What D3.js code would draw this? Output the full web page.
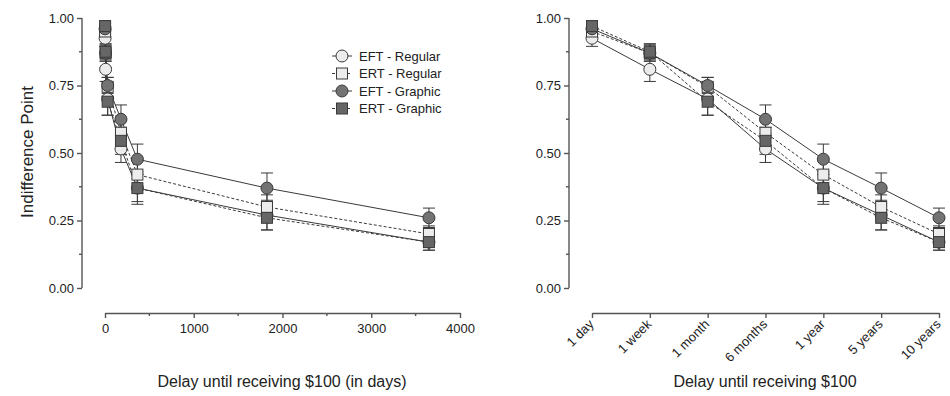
<!DOCTYPE html>
<html>
<head>
<meta charset="utf-8">
<script src="https://cdn.jsdelivr.net/npm/d3@7"></script>
<style>
  body { margin: 0; background: #fff; }
  text { font-family: "Liberation Sans", Arial, sans-serif; fill: #222; }
</style>
</head>
<body>
<svg id="chart" width="950" height="396"></svg>
<script>
// delays in days and their category labels
const delayDays = [1, 7, 30, 180, 365, 1825, 3650];
const delayLabels = ["1 day", "1 week", "1 month", "6 months", "1 year", "5 years", "10 years"];
const yTicks = [0, 0.25, 0.5, 0.75, 1];
const xTicksDays = [0, 1000, 2000, 3000, 4000];

// mean indifference points and SEM per series
const eftRegular = [0.925, 0.81, 0.70, 0.515, 0.37, 0.27, 0.17];
const eftRegularErr = [0.03, 0.045, 0.06, 0.05, 0.06, 0.055, 0.03];
const ertRegular = [0.95, 0.87, 0.745, 0.575, 0.42, 0.30, 0.20];
const ertRegularErr = [0.02, 0.03, 0.035, 0.045, 0.05, 0.045, 0.03];
const eftGraphic = [0.96, 0.87, 0.75, 0.625, 0.477, 0.37, 0.26];
const eftGraphicErr = [0.02, 0.03, 0.03, 0.053, 0.056, 0.056, 0.036];
const ertGraphic = [0.97, 0.875, 0.69, 0.545, 0.37, 0.26, 0.17];
const ertGraphicErr = [0.02, 0.03, 0.05, 0.05, 0.05, 0.045, 0.03];

const series = [
  {name: "EFT - Regular", vals: eftRegular, err: eftRegularErr, shape: "circle", fill: "#ececec", dash: null},
  {name: "ERT - Regular", vals: ertRegular, err: ertRegularErr, shape: "square", fill: "#ececec", dash: "3,2"},
  {name: "EFT - Graphic", vals: eftGraphic, err: eftGraphicErr, shape: "circle", fill: "#737373", dash: null},
  {name: "ERT - Graphic", vals: ertGraphic, err: ertGraphicErr, shape: "square", fill: "#666", dash: "3,2"}
];

const svg = d3.select("#chart");
const axisColor = "#555";
const lineColor = "#3a3a3a";

function drawMarker(g, shape, fill, x, y) {
  if (shape === "circle") {
    g.append("circle").attr("cx", x).attr("cy", y).attr("r", 6)
      .attr("fill", fill).attr("stroke", lineColor).attr("stroke-width", 1);
  } else {
    g.append("rect").attr("x", x - 5.5).attr("y", y - 5.5).attr("width", 11).attr("height", 11)
      .attr("fill", fill).attr("stroke", lineColor).attr("stroke-width", 1);
  }
}

function styleAxis(g) {
  g.selectAll("path, line").attr("stroke", axisColor).attr("stroke-width", 1.4);
  g.selectAll("text").attr("font-size", 13).attr("fill", "#222")
    .attr("font-family", "Liberation Sans, Arial, sans-serif");
}

function drawPanel(opts) {
  const y = d3.scaleLinear().domain([0, 1]).range([288, 18]);
  const g = svg.append("g");

  // y axis with minor ticks
  const yAxis = g.append("g").attr("transform", `translate(${opts.yAxisX},0)`)
    .call(d3.axisLeft(y).tickValues(yTicks).tickFormat(d3.format(".2f")).tickSize(5).tickSizeOuter(0));
  styleAxis(yAxis);
  yAxis.select(".domain").attr("d", `M0,${y(0)}V${y(1)}`);
  g.append("g").selectAll("line").data([0.125, 0.375, 0.625, 0.875]).join("line")
    .attr("x1", opts.yAxisX - 3).attr("x2", opts.yAxisX)
    .attr("y1", d => y(d)).attr("y2", d => y(d))
    .attr("stroke", axisColor).attr("stroke-width", 1.4);

  // x axis
  const xAxis = g.append("g").attr("transform", "translate(0,313)");
  opts.drawXAxis(xAxis);

  // error bars
  series.forEach(s => {
    s.vals.forEach((v, i) => {
      const cx = opts.xPos(i);
      const y1 = y(v + s.err[i]), y2 = y(v - s.err[i]);
      g.append("line").attr("x1", cx).attr("x2", cx).attr("y1", y1).attr("y2", y2)
        .attr("stroke", lineColor).attr("stroke-width", 1);
      [y1, y2].forEach(yy => g.append("line").attr("x1", cx - 6).attr("x2", cx + 6)
        .attr("y1", yy).attr("y2", yy).attr("stroke", lineColor).attr("stroke-width", 1));
    });
  });

  // connecting lines
  const line = d3.line().x(d => opts.xPos(d[0])).y(d => y(d[1]));
  series.forEach(s => {
    g.append("path").datum(s.vals.map((v, i) => [i, v]))
      .attr("d", line).attr("fill", "none").attr("stroke", lineColor)
      .attr("stroke-width", 1).attr("stroke-dasharray", s.dash);
  });

  // markers
  series.forEach(s => {
    s.vals.forEach((v, i) => drawMarker(g, s.shape, s.fill, opts.xPos(i), y(v)));
  });

  svg.append("text").attr("x", opts.titleX).attr("y", 387)
    .attr("text-anchor", "middle").attr("font-size", 16).text(opts.title);
}

// left panel: linear days
const xDays = d3.scaleLinear().domain([0, 4000]).range([105, 460]);
drawPanel({
  yAxisX: 82,
  xPos: i => xDays(delayDays[i]),
  titleX: 282,
  title: "Delay until receiving $100 (in days)",
  drawXAxis: ax => {
    ax.call(d3.axisBottom(xDays).tickValues(xTicksDays).tickFormat(d3.format("d")).tickSize(5).tickSizeOuter(0));
    styleAxis(ax);
    ax.selectAll(".tick text").attr("dy", "0.9em");
    ax.append("g").selectAll("line").data([500, 1500, 2500, 3500]).join("line")
      .attr("x1", d => xDays(d)).attr("x2", d => xDays(d)).attr("y1", 0).attr("y2", 3)
      .attr("stroke", axisColor).attr("stroke-width", 1.4);
  }
});

// right panel: categorical delays (range kept just inside the edge so "10 years" fits)
const xCat = d3.scalePoint().domain(delayLabels).range([592, 939]);
drawPanel({
  yAxisX: 569,
  xPos: i => xCat(delayLabels[i]),
  titleX: 765,
  title: "Delay until receiving $100",
  drawXAxis: ax => {
    ax.call(d3.axisBottom(xCat).tickSize(5).tickSizeOuter(0));
    styleAxis(ax);
    ax.selectAll(".tick text")
      .attr("text-anchor", "end").attr("dy", null).attr("y", 0)
      .attr("transform", "translate(2,12) rotate(-45)");
  }
});

// y axis title
svg.append("text").attr("transform", "translate(33,152) rotate(-90)")
  .attr("text-anchor", "middle").attr("font-size", 17).text("Indifference Point");

// legend
const legend = svg.append("g");
series.forEach((s, i) => {
  const ly = 56 + i * 17.5;
  legend.append("line").attr("x1", 332).attr("x2", 352).attr("y1", ly).attr("y2", ly)
    .attr("stroke", lineColor).attr("stroke-width", 1).attr("stroke-dasharray", s.dash);
  drawMarker(legend, s.shape, s.fill, 342, ly);
  legend.append("text").attr("x", 359).attr("y", ly + 4.5).attr("font-size", 13).text(s.name);
});
</script>
</body>
</html>
